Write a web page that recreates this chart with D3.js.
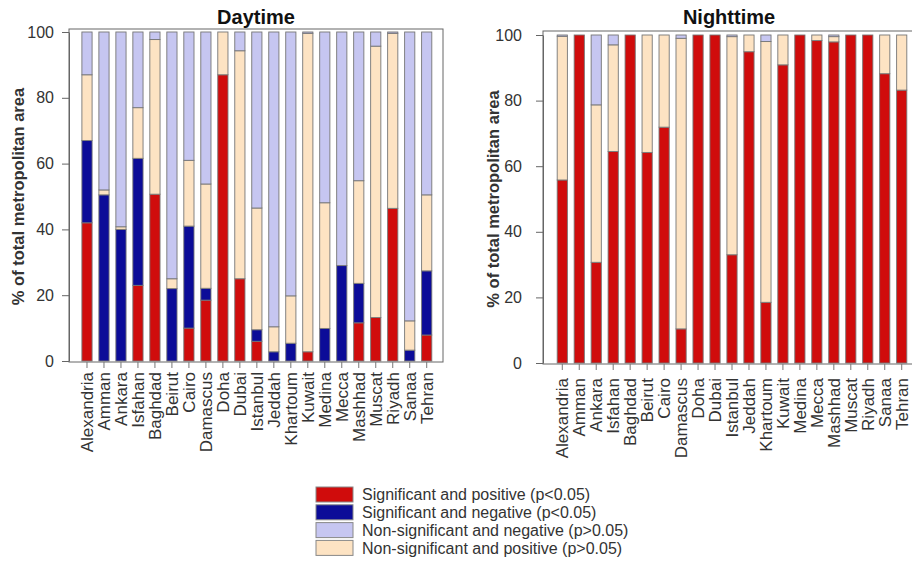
<!DOCTYPE html>
<html>
<head>
<meta charset="utf-8">
<script src="https://cdn.jsdelivr.net/npm/d3@7"></script>
<style>
  html, body { margin: 0; padding: 0; background: #fff; }
  svg { display: block; font-family: "Liberation Sans", Arial, sans-serif; }
</style>
</head>
<body>
<svg id="chart" width="912" height="567"></svg>
<script>
// Metropolitan areas (same order in both panels)
const cities = ["Alexandria", "Amman", "Ankara", "Isfahan", "Baghdad", "Beirut", "Cairo",
  "Damascus", "Doha", "Dubai", "Istanbul", "Jeddah", "Khartoum", "Kuwait", "Medina",
  "Mecca", "Mashhad", "Muscat", "Riyadh", "Sanaa", "Tehran"];

// Daytime: % of metropolitan area in each trend class
const daySigPos   = [42, 0, 0, 23, 50.7, 0, 10, 18.5, 87, 25, 6, 0, 0, 2.8, 0, 0, 11.6, 13.2, 46.4, 0, 7.9];
const daySigNeg   = [25, 50.5, 40, 38.6, 0, 22, 31, 3.6, 0, 0, 3.5, 2.8, 5.4, 0, 9.9, 29, 12, 0, 0, 3.3, 19.5];
const dayNsPos    = [20, 1.5, 0.8, 15.4, 47, 3, 20, 31.7, 13, 69.3, 37, 7.6, 14.4, 96.8, 38.2, 0, 31.2, 82.5, 53.2, 8.9, 23.1];
const dayNsNeg    = [13, 48, 59.2, 23, 2.3, 75, 39, 46.2, 0, 5.7, 53.5, 89.6, 80.2, 0.4, 51.9, 71, 45.2, 4.3, 0.4, 87.8, 49.5];

// Nighttime: % of metropolitan area in each trend class
const nightSigPos = [55.8, 100, 30.7, 64.5, 100, 64.2, 71.9, 10.4, 100, 100, 33, 94.9, 18.5, 90.9, 100, 98.3, 97.9, 100, 100, 88.2, 83.2];
const nightSigNeg = [0, 0, 0, 0, 0, 0, 0, 0, 0, 0, 0, 0, 0, 0, 0, 0, 0, 0, 0, 0, 0];
const nightNsPos  = [43.8, 0, 48, 32.5, 0, 35.8, 28.1, 88.6, 0, 0, 66.5, 5.1, 79.5, 9.1, 0, 1.7, 1.6, 0, 0, 11.8, 16.8];
const nightNsNeg  = [0.4, 0, 21.3, 3, 0, 0, 0, 1, 0, 0, 0.5, 0, 2, 0, 0, 0, 0.5, 0, 0, 0, 0];

const yTicks = [0, 20, 40, 60, 80, 100];

// Classes: stacking order bottom->top, and legend order
const stackKeys = ["sigPos", "sigNeg", "nsPos", "nsNeg"];
const legendKeys = ["sigPos", "sigNeg", "nsNeg", "nsPos"];
const classLabels = {
  sigPos: "Significant and positive (p<0.05)",
  sigNeg: "Significant and negative (p<0.05)",
  nsNeg: "Non-significant and negative (p>0.05)",
  nsPos: "Non-significant and positive (p>0.05)"
};
const classColors = {
  sigPos: "#d00c0c",
  sigNeg: "#0c0c98",
  nsNeg: "#c6c6f1",
  nsPos: "#fde3c3"
};

const svg = d3.select("#chart");

function rows(sp, sn, np, nn) {
  return cities.map((c, i) => ({ city: c, sigPos: sp[i], sigNeg: sn[i], nsPos: np[i], nsNeg: nn[i] }));
}

function drawPanel(cfg, data) {
  const g = svg.append("g");
  const x = d3.scaleBand().domain(cities).range([cfg.bandL, cfg.bandR]).paddingInner(0.4).paddingOuter(0.2);
  const y = d3.scaleLinear().domain([0, 100]).range([cfg.y0, cfg.y100]);

  // frame
  g.append("rect")
    .attr("x", cfg.left).attr("y", cfg.top)
    .attr("width", cfg.right - cfg.left).attr("height", cfg.y0 + 1 - cfg.top)
    .attr("fill", "none").attr("stroke", "#666").attr("stroke-width", 1);

  const series = d3.stack().keys(stackKeys)(data);
  g.selectAll("g.series").data(series).join("g")
    .attr("class", "series")
    .attr("fill", d => classColors[d.key])
    .selectAll("rect")
    .data(d => d.filter(s => s[1] - s[0] > 0))
    .join("rect")
    .attr("x", d => x(d.data.city))
    .attr("width", x.bandwidth())
    .attr("y", d => y(d[1]))
    .attr("height", d => y(d[0]) - y(d[1]))
    .attr("stroke", "#767676")
    .attr("stroke-width", 0.9);

  // y axis
  const ya = g.append("g")
    .attr("transform", `translate(${cfg.left},0)`)
    .call(d3.axisLeft(y).tickValues(yTicks).tickSize(7).tickSizeOuter(0).tickPadding(cfg.yPad));
  ya.select(".domain").attr("stroke", "#666");
  ya.selectAll(".tick line").attr("stroke", "#666");
  ya.selectAll(".tick text").attr("font-size", 16).attr("fill", "#333")
    .attr("font-family", "'Liberation Sans', Arial, sans-serif");

  // x axis
  const xa = g.append("g")
    .attr("transform", `translate(0,${cfg.y0 + 1})`)
    .call(d3.axisBottom(x).tickSize(6).tickSizeOuter(0));
  xa.select(".domain").remove();
  xa.selectAll(".tick line").attr("stroke", "#777");
  xa.selectAll(".tick text")
    .attr("font-size", 17).attr("fill", "#333")
    .attr("font-family", "'Liberation Sans', Arial, sans-serif")
    .attr("transform", "rotate(-90)")
    .attr("text-anchor", "end")
    .attr("x", -cfg.labelGap).attr("y", 0).attr("dy", "0.35em");

  // title
  g.append("text")
    .attr("x", cfg.titleX).attr("y", 24)
    .attr("text-anchor", "middle")
    .attr("font-size", 20).attr("font-weight", "bold").attr("fill", "#111")
    .text(cfg.title);

  // y axis title
  g.append("text")
    .attr("transform", `translate(${cfg.yTitleX},${(cfg.y0 + cfg.y100) / 2}) rotate(-90)`)
    .attr("text-anchor", "middle")
    .attr("dy", "0.35em")
    .attr("font-size", 16.5).attr("font-weight", "bold").attr("fill", "#333")
    .text("% of total metropolitan area");
}

drawPanel({
  title: "Daytime", titleX: 256,
  left: 69, right: 443, top: 29, y0: 361, y100: 32,
  bandL: 78.5, bandR: 435.2, yPad: 8, labelGap: 10, yTitleX: 18
}, rows(daySigPos, daySigNeg, dayNsPos, dayNsNeg));

drawPanel({
  title: "Nighttime", titleX: 729,
  left: 543, right: 925, top: 31, y0: 363, y100: 35,
  bandL: 553.8, bandR: 910.2, yPad: 14, labelGap: 14, yTitleX: 493
}, rows(nightSigPos, nightSigNeg, nightNsPos, nightNsNeg));

// legend
const legend = svg.append("g").attr("transform", "translate(316,487)");
const item = legend.selectAll("g").data(legendKeys).join("g")
  .attr("transform", (d, i) => `translate(0,${i * 17.8})`);
item.append("rect")
  .attr("width", 37).attr("height", 15)
  .attr("fill", d => classColors[d])
  .attr("stroke", "#888").attr("stroke-width", 1);
item.append("text")
  .attr("x", 46).attr("y", 7.5).attr("dy", "0.35em")
  .attr("font-size", 16).attr("fill", "#333")
  .text(d => classLabels[d]);
</script>
</body>
</html>
